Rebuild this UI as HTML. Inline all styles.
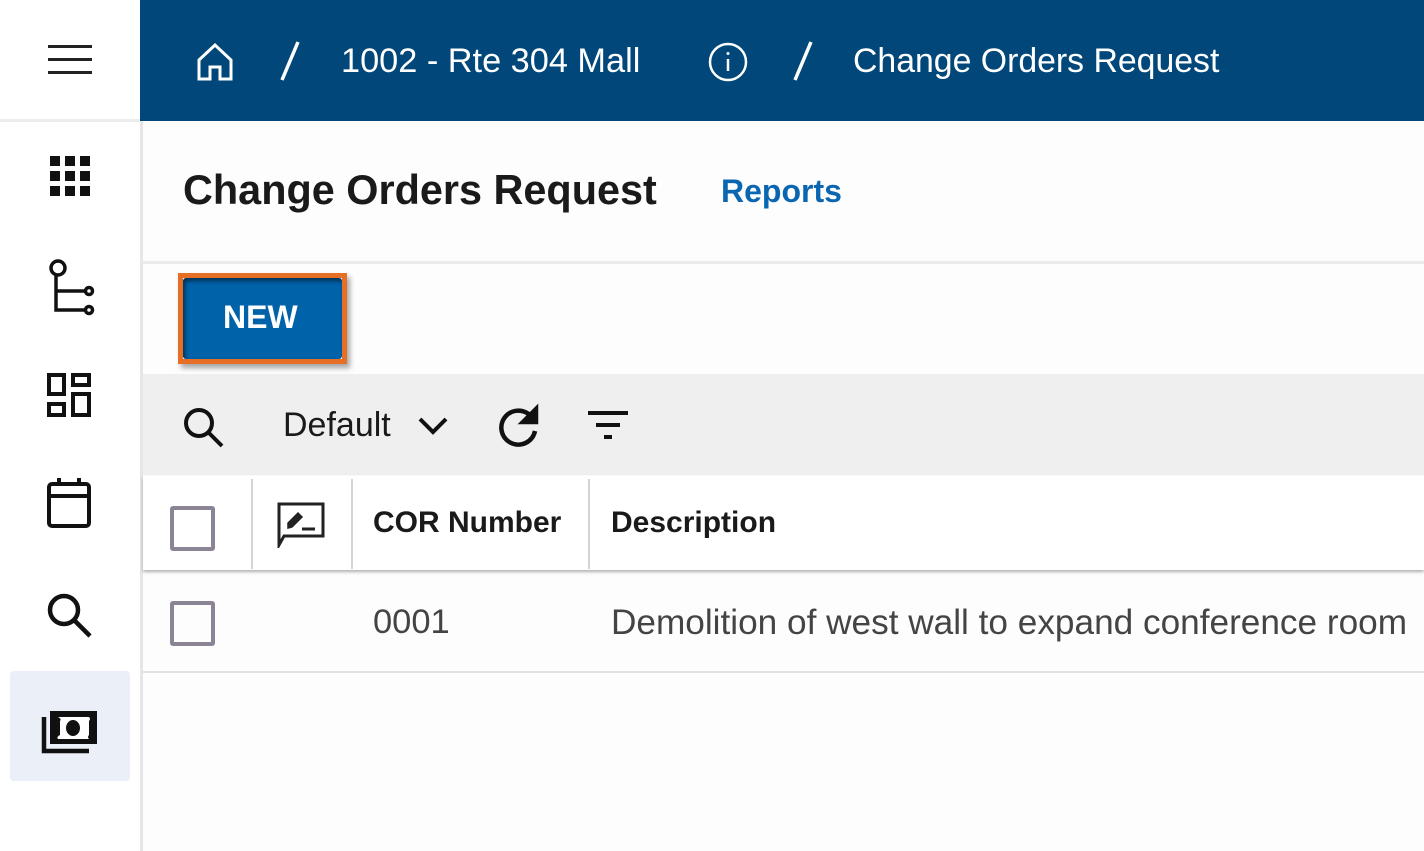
<!DOCTYPE html>
<html><head><meta charset="utf-8"><style>
*{margin:0;padding:0;box-sizing:border-box}
body{width:1424px;height:851px;overflow:hidden;background:#fdfdfd;font-family:"Liberation Sans",Arial,sans-serif;position:relative}
.a{position:absolute}
.t{position:absolute;white-space:nowrap}
</style></head><body>
<div class="a" style="left:0;top:0;width:140px;height:851px;background:#fff"></div>
<div class="a" style="left:0;top:119px;width:140px;height:3px;background:#ececec"></div>
<div class="a" style="left:140px;top:120px;width:3px;height:731px;background:#e6e6e6"></div>
<div class="a" style="left:48px;top:45px;width:44px;height:3px;background:#222"></div>
<div class="a" style="left:48px;top:58px;width:44px;height:3px;background:#222"></div>
<div class="a" style="left:48px;top:71px;width:44px;height:3px;background:#222"></div>
<svg class="a" style="left:48px;top:154px" width="44" height="44" viewBox="0 0 44 44" fill="#111">
<rect x="2" y="2" width="10" height="10"/><rect x="17" y="2" width="10" height="10"/><rect x="32" y="2" width="10" height="10"/>
<rect x="2" y="17" width="10" height="10"/><rect x="17" y="17" width="10" height="10"/><rect x="32" y="17" width="10" height="10"/>
<rect x="2" y="32" width="10" height="10"/><rect x="17" y="32" width="10" height="10"/><rect x="32" y="32" width="10" height="10"/></svg>
<svg class="a" style="left:46px;top:258px" width="52" height="60" viewBox="0 0 52 60" fill="none" stroke="#111" stroke-width="3.5">
<circle cx="12" cy="10" r="7"/><path d="M10 17 V52 H40 M10 33 H40"/><circle cx="43" cy="33" r="3.5"/><circle cx="43" cy="52" r="3.5"/></svg>
<svg class="a" style="left:46px;top:372px" width="48" height="48" viewBox="0 0 48 48" fill="none" stroke="#111" stroke-width="4">
<rect x="3" y="3" width="15" height="19"/><rect x="27" y="3" width="16" height="10"/><rect x="3" y="32" width="15" height="11"/><rect x="27" y="22" width="16" height="21"/></svg>
<svg class="a" style="left:44px;top:476px" width="52" height="56" viewBox="0 0 52 56" fill="none" stroke="#111" stroke-width="4">
<rect x="5" y="8" width="40" height="42" rx="3"/><path d="M5 20 H45 M15 2 V10 M35 2 V10"/></svg>
<svg class="a" style="left:44px;top:590px" width="52" height="52" viewBox="0 0 52 52" fill="none" stroke="#111" stroke-width="4.5">
<circle cx="20" cy="20" r="14"/><path d="M30 30 L46 46"/></svg>
<div class="a" style="left:10px;top:671px;width:120px;height:110px;background:#ebf0f8;border-radius:4px"></div>
<svg class="a" style="left:40px;top:708px" width="60" height="48" viewBox="0 0 60 48">
<path d="M4 9 V43 H49" fill="none" stroke="#111" stroke-width="4.5"/>
<rect x="10" y="3" width="47" height="33" fill="#111"/>
<path d="M18 9 Q22 11 20 13 V27 Q16 29 18 31 H49 Q47 29 49 27 V13 Q51 11 49 9 Z" fill="#fff"/>
<ellipse cx="33" cy="20" rx="7" ry="8" fill="#111"/></svg>
<div class="a" style="left:140px;top:0;width:1284px;height:121px;background:#02477a"></div>
<svg class="a" style="left:196px;top:42px" width="38" height="40" viewBox="0 0 38 40" fill="none" stroke="#fff" stroke-width="3">
<path d="M3 18 L19 3 L35 18 V37 H24 V25 H14 V37 H3 Z"/></svg>
<svg class="a" style="left:276px;top:40px" width="28" height="42" viewBox="0 0 28 42"><path d="M22 2 L6 40" stroke="#fff" stroke-width="3.5"/></svg>
<div class="t" style="left:341px;top:42px;color:#fff;font-size:34.3px">1002 - Rte 304 Mall</div>
<svg class="a" style="left:707px;top:41px" width="42" height="42" viewBox="0 0 42 42" fill="none" stroke="#fff" stroke-width="2.5">
<circle cx="21" cy="21" r="18"/><path d="M21 18 V30"/><circle cx="21" cy="12.5" r="1.5" fill="#fff" stroke="none"/></svg>
<svg class="a" style="left:789px;top:40px" width="28" height="42" viewBox="0 0 28 42"><path d="M22 2 L6 40" stroke="#fff" stroke-width="3.5"/></svg>
<div class="t" style="left:853px;top:42px;color:#fff;font-size:33.8px">Change Orders Request</div>
<div class="t" style="left:183px;top:167px;color:#1a1a1a;font-size:41.4px;font-weight:bold">Change Orders Request</div>
<div class="t" style="left:721px;top:173px;color:#0a66b0;font-size:32px;font-weight:bold">Reports</div>
<div class="a" style="left:143px;top:261px;width:1281px;height:3px;background:#ebebeb"></div>
<div class="a" style="left:178px;top:273px;width:169px;height:91px;border:5px solid #e76f25;box-shadow:3px 4px 5px rgba(0,0,0,.35)"></div>
<div class="a" style="left:183px;top:278px;width:159px;height:81px;background:#0062a9;border-radius:3px;box-shadow:inset 2px 3px 4px rgba(0,0,0,.5)"></div>
<div class="t" style="left:223px;top:299px;color:#fff;font-size:32px;font-weight:bold">NEW</div>
<div class="a" style="left:143px;top:374px;width:1281px;height:101px;background:#efefef"></div>
<svg class="a" style="left:180px;top:404px" width="48" height="48" viewBox="0 0 48 48" fill="none" stroke="#111" stroke-width="4">
<circle cx="19" cy="19" r="13"/><path d="M28 28 L42 42"/></svg>
<div class="t" style="left:283px;top:406px;color:#1a1a1a;font-size:34px">Default</div>
<svg class="a" style="left:416px;top:414px" width="34" height="24" viewBox="0 0 34 24" fill="none" stroke="#111" stroke-width="4"><path d="M4 5 L17 18 L30 5"/></svg>
<svg class="a" style="left:495px;top:403px" width="48" height="48" viewBox="0 0 48 48" fill="none" stroke="#111" stroke-width="4.5">
<path d="M38 16 A17 17 0 1 0 40 28"/><path d="M41 6 L41 19 L28 19 Z" fill="#111"/></svg>
<svg class="a" style="left:586px;top:408px" width="44" height="36" viewBox="0 0 44 36" fill="#111">
<rect x="2" y="3" width="40" height="4"/><rect x="10" y="15" width="24" height="4"/><rect x="18" y="27" width="8" height="4"/></svg>
<div class="a" style="left:143px;top:476px;width:1281px;height:94px;background:#fff;box-shadow:0 2px 3px rgba(0,0,0,.3)"></div>
<div class="a" style="left:251px;top:479px;width:2px;height:90px;background:#d4d4d4"></div>
<div class="a" style="left:351px;top:479px;width:2px;height:90px;background:#d4d4d4"></div>
<div class="a" style="left:588px;top:479px;width:2px;height:90px;background:#d4d4d4"></div>
<div class="a" style="left:170px;top:506px;width:45px;height:45px;border:4px solid #8a8494;border-radius:3px"></div>
<svg class="a" style="left:274px;top:500px" width="54" height="48" viewBox="0 0 54 48" fill="none" stroke="#222" stroke-width="3">
<path d="M5 4 H49 V36 H10 L5 45 Z"/><path d="M14 28 L14 23 L24 13 L28 17 L18 27 Z" fill="#222" stroke-width="1.5"/><path d="M28 29 H41"/></svg>
<div class="t" style="left:373px;top:506px;color:#1a1a1a;font-size:30px;font-weight:bold">COR Number</div>
<div class="t" style="left:611px;top:506px;color:#1a1a1a;font-size:30px;font-weight:bold">Description</div>
<div class="a" style="left:170px;top:601px;width:45px;height:45px;border:4px solid #8a8494;border-radius:3px"></div>
<div class="t" style="left:373px;top:603px;color:#444;font-size:34.5px">0001</div>
<div class="t" style="left:611px;top:603px;color:#444;font-size:35.2px">Demolition of west wall to expand conference room</div>
<div class="a" style="left:143px;top:671px;width:1281px;height:2px;background:#e2e2e2"></div>
</body></html>
